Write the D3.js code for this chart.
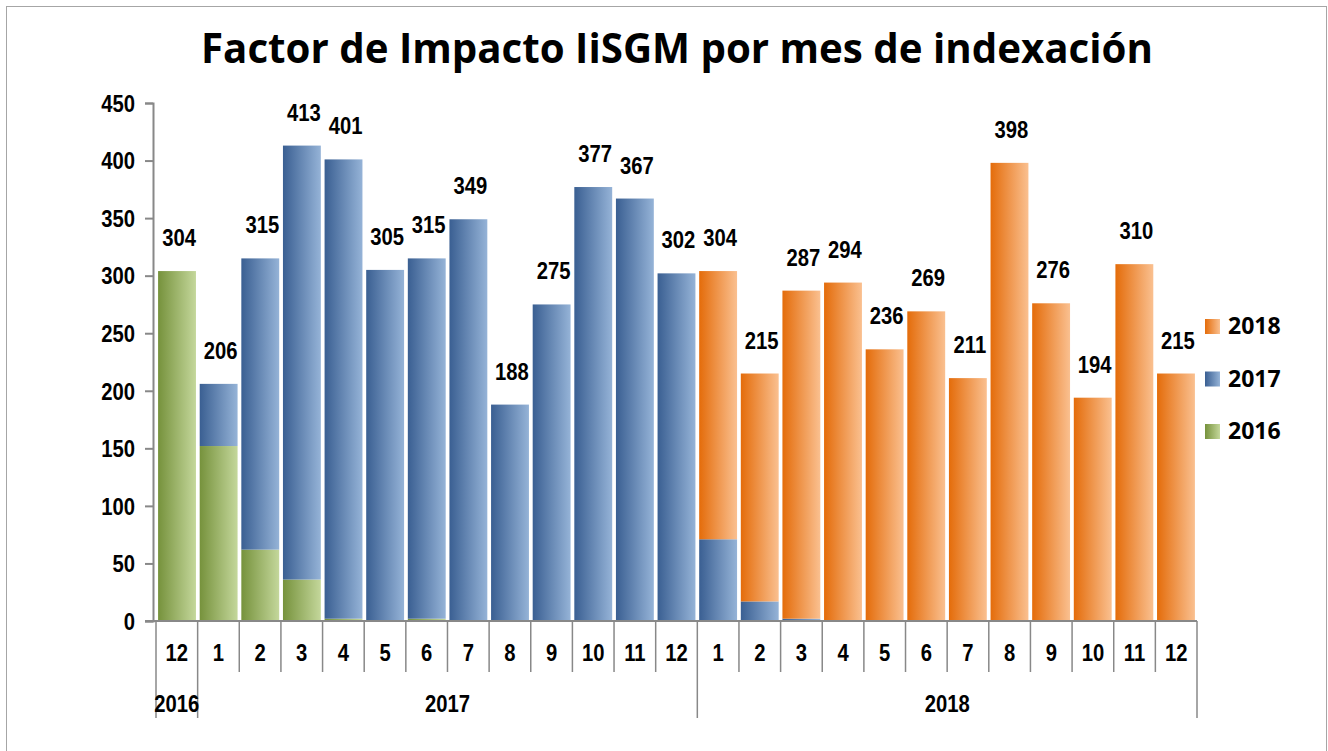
<!DOCTYPE html>
<html>
<head>
<meta charset="utf-8">
<script src="https://cdn.jsdelivr.net/npm/d3@7"></script>
<style>
  body { margin: 0; background: #fff; }
  svg text { font-family: "Liberation Sans", Arial, sans-serif; font-weight: bold; fill: #000; }
</style>
</head>
<body>
<div id="chart"></div>
<script>
// Datos
const months = ["12", "1", "2", "3", "4", "5", "6", "7", "8", "9", "10", "11", "12",
                "1", "2", "3", "4", "5", "6", "7", "8", "9", "10", "11", "12"];
const totals = [304, 206, 315, 413, 401, 305, 315, 349, 188, 275, 377, 367, 302,
                304, 215, 287, 294, 236, 269, 211, 398, 276, 194, 310, 215];
const s2016 = [304, 152, 62, 36, 2, 0, 2, 0, 0, 0, 0, 0, 0,
               0, 0, 0, 0, 0, 0, 0, 0, 0, 0, 0, 0];
const s2017 = [0, 54, 253, 377, 399, 305, 313, 349, 188, 275, 377, 367, 302,
               71, 17, 2, 0, 0, 0, 0, 0, 0, 0, 0, 0];
const s2018 = [0, 0, 0, 0, 0, 0, 0, 0, 0, 0, 0, 0, 0,
               233, 198, 285, 294, 236, 269, 211, 398, 276, 194, 310, 215];
const yTicks = [0, 50, 100, 150, 200, 250, 300, 350, 400, 450];
const seriesNames = ["2016", "2017", "2018"];
const yearGroups = ["2016", "2017", "2018"];

const W = 1328, H = 751;
const pLeft = 156, pRight = 1197, pTop = 103, pBottom = 621;

const svg = d3.select("#chart").append("svg").attr("width", W).attr("height", H);

// marco (sin borde inferior visible)
svg.append("rect").attr("x", 6.5).attr("y", 6.5).attr("width", 1320).attr("height", 800)
  .attr("fill", "#fff").attr("stroke", "#a6a6a6");

// degradados
const defs = svg.append("defs");
const grads = {
  "2016": ["#76923c", "#c4d79b"],
  "2017": ["#3a5f92", "#95b3d7"],
  "2018": ["#e46c0a", "#fac090"]
};
seriesNames.forEach(s => {
  const g = defs.append("linearGradient").attr("id", "g" + s)
    .attr("x1", "0%").attr("x2", "100%").attr("y1", "0%").attr("y2", "0%");
  g.append("stop").attr("offset", "0%").attr("stop-color", grads[s][0]);
  g.append("stop").attr("offset", "100%").attr("stop-color", grads[s][1]);
});

// texto estrecho, como Arial Narrow
function narrow(sel, k) {
  sel.each(function () {
    const len = this.getComputedTextLength();
    d3.select(this).attr("textLength", len * k).attr("lengthAdjust", "spacingAndGlyphs");
  });
}

const idx = totals.map((d, i) => i);
const x = d3.scaleBand().domain(idx).range([pLeft, pRight]).paddingInner(0.09).paddingOuter(0.05);
const y = d3.scaleLinear().domain([0, 450]).range([pBottom, pTop]);

// título
const title = svg.append("text")
  .attr("x", 677).attr("y", 63)
  .attr("text-anchor", "middle")
  .style("font-family", "'Open Sans', sans-serif")
  .style("font-size", "36px")
  .text("Factor de Impacto IiSGM por mes de indexación");
const tw = title.node().getComputedTextLength();
title.style("font-size", (36 * 952 / tw) + "px");

// barras apiladas
const rows = idx.map(i => ({ i, "2016": s2016[i], "2017": s2017[i], "2018": s2018[i] }));
const stack = d3.stack().keys(seriesNames)(rows);
svg.append("g").selectAll("g").data(stack).join("g")
  .attr("fill", d => `url(#g${d.key})`)
  .selectAll("rect").data(d => d.filter(p => p[1] > p[0])).join("rect")
  .attr("x", d => x(d.data.i))
  .attr("width", x.bandwidth())
  .attr("y", d => y(d[1]))
  .attr("height", d => y(d[0]) - y(d[1]));

const fs = "23px", squeeze = 0.88;

// eje Y
const yAxis = svg.append("g").attr("transform", `translate(${pLeft - 3},0)`)
  .call(d3.axisLeft(y).tickValues(yTicks).tickSize(8).tickPadding(10));
yAxis.select(".domain").attr("stroke", "#888").attr("stroke-width", 2);
yAxis.selectAll(".tick line").attr("stroke", "#888").attr("stroke-width", 2);
yAxis.selectAll("text").style("font-size", fs).attr("dy", "0.36em").call(narrow, squeeze);

// eje X
const ax = svg.append("g");
ax.append("line").attr("x1", pLeft - 11).attr("x2", pRight).attr("y1", pBottom).attr("y2", pBottom)
  .attr("stroke", "#888").attr("stroke-width", 2);
const edges = d3.range(totals.length + 1).map(k => pLeft + k * (pRight - pLeft) / totals.length);
const yearEdges = [0, 1, 13, 25];
edges.forEach((ex, k) => {
  const long = yearEdges.includes(k);
  ax.append("line").attr("x1", ex).attr("x2", ex).attr("y1", pBottom).attr("y2", long ? 718 : 672)
    .attr("stroke", "#888").attr("stroke-width", 1.5);
});
ax.selectAll("text.m").data(idx).join("text").attr("class", "m")
  .attr("x", i => (edges[i] + edges[i + 1]) / 2).attr("y", 661)
  .attr("text-anchor", "middle").style("font-size", fs)
  .text(i => months[i]).call(narrow, squeeze);
yearGroups.forEach((yr, g) => {
  ax.append("text")
    .attr("x", (edges[yearEdges[g]] + edges[yearEdges[g + 1]]) / 2).attr("y", 712)
    .attr("text-anchor", "middle").style("font-size", fs).text(yr).call(narrow, squeeze);
});

// etiquetas de valor
svg.append("g").selectAll("text").data(idx).join("text")
  .attr("x", i => x(i) + x.bandwidth() / 2 + 2)
  .attr("y", i => y(totals[i]) - 25)
  .attr("text-anchor", "middle").style("font-size", fs)
  .text(i => totals[i]).call(narrow, squeeze);

// leyenda
const legend = svg.append("g");
["2018", "2017", "2016"].forEach((s, k) => {
  const ly = 326 + k * 52.5;
  legend.append("rect").attr("x", 1205).attr("y", ly - 7).attr("width", 15).attr("height", 15)
    .attr("fill", `url(#g${s})`);
  legend.append("text").attr("x", 1228).attr("y", ly).attr("dy", "0.36em")
    .style("font-family", "'Open Sans', sans-serif").style("font-size", "23px").text(s);
});
</script>
</body>
</html>
